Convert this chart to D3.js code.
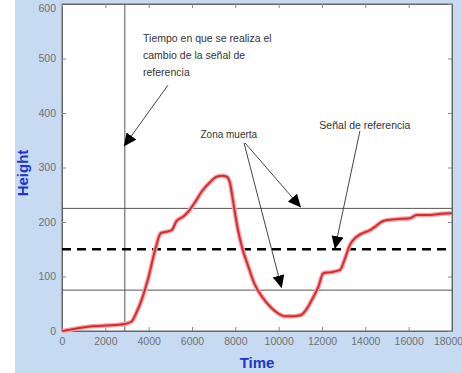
<!DOCTYPE html>
<html lang="en">
<head>
<meta charset="utf-8">
<title>Height vs Time</title>
<script src="https://d3js.org/d3.v7.min.js"></script>
<style>
  body { margin: 0; background: #fff; }
  svg { display: block; font-family: "Liberation Sans", Arial, sans-serif; }
</style>
</head>
<body>
<script>
// data
var time   = [0, 600, 1200, 2000, 2900, 3200, 3450, 3700, 4000, 4300, 4570, 4800, 5060, 5290, 5600, 5830, 6150, 6450, 6830, 7140, 7400, 7600, 7750, 7850, 7950, 8100, 8300, 8600, 8900, 9250, 9600, 9950, 10300, 10650, 11000, 11250, 11450, 11650, 11830, 12060, 12450, 12830, 13060, 13290, 13600, 13900, 14215, 14500, 14830, 15400, 16060, 16370, 17000, 17500, 18000];
var height = [0, 4, 8, 10, 13, 17, 35, 60, 100, 149, 180, 182, 185, 202, 210, 219, 237, 256, 273, 283, 285, 283, 272, 250, 225, 190, 155, 118, 85, 62, 45, 33, 27, 27, 29, 38, 51, 66, 81, 106, 108, 112, 133, 158, 173, 180, 185, 193, 202, 205, 207, 213, 213, 215, 216];
var refLines = [75, 225];       // dead-zone limits
var refSignal = 150;            // reference signal
var changeTime = 2900;          // moment the reference changes
var xTicks = [0, 2000, 4000, 6000, 8000, 10000, 12000, 14000, 16000, 18000];
var yTicks = [0, 100, 200, 300, 400, 500, 600];

var w = 462, h = 373;
var margin = {left: 62, right: 10, top: 4, bottom: 42};

var svg = d3.select("body").append("svg")
  .attr("width", w)
  .attr("height", h);

// figure background
svg.append("rect").attr("x", 15).attr("y", 0).attr("width", w - 15).attr("height", h).attr("fill", "#c6dbf2");

var x = d3.scaleLinear().domain([0, 18000]).range([margin.left, w - margin.right]);
var y = d3.scaleLinear().domain([0, 600]).range([h - margin.bottom, margin.top]);

// plot box
svg.append("rect")
  .attr("x", x(0)).attr("y", y(600))
  .attr("width", x(18000) - x(0)).attr("height", y(0) - y(600))
  .attr("fill", "#fff").attr("stroke", "#666").attr("stroke-width", 1);

// axes with inward ticks (MATLAB style)
var xAxis = svg.append("g").attr("transform", "translate(0," + y(0) + ")")
  .call(d3.axisBottom(x).tickValues(xTicks).tickSize(-4).tickPadding(7).tickFormat(d3.format("d")));
var yAxis = svg.append("g").attr("transform", "translate(" + x(0) + ",0)")
  .call(d3.axisLeft(y).tickValues(yTicks).tickSize(-4).tickPadding(6));
svg.append("g").attr("transform", "translate(0," + y(600) + ")")
  .call(d3.axisTop(x).tickValues(xTicks).tickSize(-4).tickFormat(""));
svg.append("g").attr("transform", "translate(" + x(18000) + ",0)")
  .call(d3.axisRight(y).tickValues(yTicks).tickSize(-4).tickFormat(""));

svg.selectAll(".domain").attr("stroke", "#666");
svg.selectAll(".tick line").attr("stroke", "#888");
svg.selectAll(".tick text").attr("fill", "#707070").style("font-size", "10.5px");
// keep the end labels inside the window
xAxis.selectAll(".tick text").filter(function(d) { return d === 18000; }).attr("dx", "-4");
yAxis.selectAll(".tick text").filter(function(d) { return d === 600; }).attr("dy", "0.75em");

// axis titles
svg.append("text")
  .attr("x", 257).attr("y", 368)
  .attr("text-anchor", "middle")
  .attr("fill", "#2233cc").style("font-size", "15px").style("font-weight", "bold")
  .text("Time");
svg.append("text")
  .attr("transform", "translate(28,173) rotate(-90)")
  .attr("text-anchor", "middle")
  .attr("fill", "#2233cc").style("font-size", "15px").style("font-weight", "bold")
  .text("Height");

// vertical line at the change time
svg.append("line")
  .attr("x1", x(changeTime)).attr("x2", x(changeTime))
  .attr("y1", y(600)).attr("y2", y(0))
  .attr("stroke", "#555").attr("stroke-width", 1);

// dead zone limits
svg.selectAll(".lim").data(refLines).enter().append("line")
  .attr("x1", x(0)).attr("x2", x(18000))
  .attr("y1", function(d) { return y(d); }).attr("y2", function(d) { return y(d); })
  .attr("stroke", "#555").attr("stroke-width", 1);

// reference signal
svg.append("line")
  .attr("x1", x(0)).attr("x2", x(18000))
  .attr("y1", y(refSignal)).attr("y2", y(refSignal))
  .attr("stroke", "#000").attr("stroke-width", 2.5).attr("stroke-dasharray", "9,6");

// response curve
var pts = time.map(function(t, i) { return [t, height[i]]; });
var line = d3.line().x(function(d) { return x(d[0]); }).y(function(d) { return y(d[1]); }).curve(d3.curveMonotoneX);
svg.append("path").attr("d", line(pts)).attr("fill", "none").attr("stroke", "#f4a6a8").attr("stroke-width", 4.5);
svg.append("path").attr("d", line(pts)).attr("fill", "none").attr("stroke", "#d92a30").attr("stroke-width", 2);

// arrowhead
svg.append("defs").append("marker")
  .attr("id", "head").attr("markerUnits", "userSpaceOnUse")
  .attr("markerWidth", 14).attr("markerHeight", 12)
  .attr("refX", 12).attr("refY", 6).attr("orient", "auto")
  .append("path").attr("d", "M0,0 L13,6 L0,12 Z").attr("fill", "#000");

// annotations [fromTime, fromHeight, toTime, toHeight]
var arrows = [
  [4890, 451, 2880, 340],
  [8450, 345, 11000, 228],
  [8400, 345, 10130, 80],
  [13750, 367, 12600, 152]
];
svg.selectAll(".arr").data(arrows).enter().append("line")
  .attr("x1", function(d) { return x(d[0]); }).attr("y1", function(d) { return y(d[1]); })
  .attr("x2", function(d) { return x(d[2]); }).attr("y2", function(d) { return y(d[3]); })
  .attr("stroke", "#444").attr("stroke-width", 1)
  .attr("marker-end", "url(#head)");

var note1 = ["Tiempo en que se realiza el", "cambio de la señal de", "referencia"];
svg.append("text")
  .attr("x", x(3740)).attr("y", 42)
  .attr("fill", "#333").style("font-size", "10.5px")
  .selectAll("tspan").data(note1).enter().append("tspan")
  .attr("x", x(3740)).attr("dy", function(d, i) { return i ? 17 : 0; })
  .text(function(d) { return d; });

svg.append("text")
  .attr("x", x(7700)).attr("y", 138).attr("text-anchor", "middle")
  .attr("fill", "#333").style("font-size", "10px").text("Zona muerta");
svg.append("text")
  .attr("x", x(13980)).attr("y", 129).attr("text-anchor", "middle")
  .attr("fill", "#333").style("font-size", "10.5px").text("Señal de referencia");
</script>
</body>
</html>
